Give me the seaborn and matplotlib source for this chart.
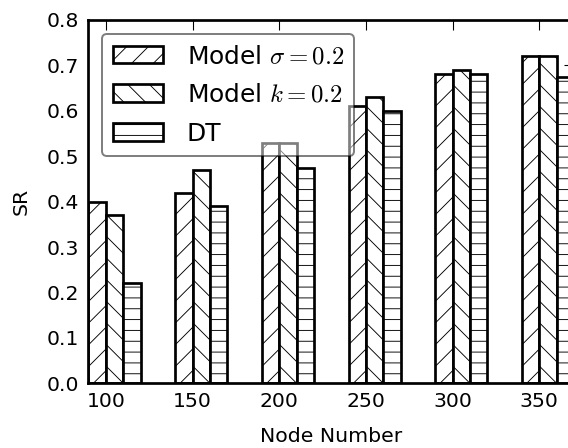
import numpy as np
import pandas as pd
import matplotlib
matplotlib.use("Agg")
import matplotlib.pyplot as plt
import seaborn as sns

nodes = ["100", "150", "200", "250", "300", "350"]
methods = ["Model $\\sigma=0.2$", "Model $k=0.2$", "DT"]
sr_sigma = [0.40, 0.42, 0.53, 0.61, 0.68, 0.72]
sr_k = [0.37, 0.47, 0.53, 0.63, 0.69, 0.72]
sr_dt = [0.22, 0.39, 0.475, 0.60, 0.68, 0.675]
hatches = ["/", "\\", "-"]

df = pd.DataFrame({
    "node": nodes * 3,
    "SR": sr_sigma + sr_k + sr_dt,
    "method": [methods[0]] * 6 + [methods[1]] * 6 + [methods[2]] * 6,
})

sns.set_style("white")
plt.rcParams.update({
    "font.family": ["DejaVu Sans"],
    "mathtext.fontset": "cm",
    "hatch.linewidth": 1.0,
    "xtick.direction": "in",
    "ytick.direction": "in",
    "xtick.top": True,
    "ytick.right": True,
    "text.color": "black",
    "axes.labelcolor": "black",
    "xtick.color": "black",
    "ytick.color": "black",
})

DPI = 65
fig = plt.figure(figsize=(568 / DPI, 448 / DPI), dpi=DPI)
fig.patch.set_facecolor("white")
ax = fig.add_axes([0.1558, 0.1444, 0.8548, 0.811])

sns.barplot(data=df, x="node", y="SR", hue="method", order=nodes,
            hue_order=methods, palette=["white"] * 3, saturation=1,
            edgecolor="black", linewidth=3.0, width=0.6, errorbar=None,
            legend=False, ax=ax)

for cont, h in zip(ax.containers, hatches):
    for p in cont:
        p.set_hatch(h)
        p.set_edgecolor("black")

idx = np.arange(len(nodes))
ax.set_xticks(idx - 0.1)
ax.set_xticklabels(nodes)
ax.set_xlim(-0.3, len(nodes) - 0.7)
ax.set_ylim(0, 0.8)
yt = np.arange(0, 0.81, 0.1)
ax.set_yticks(yt)
ax.set_yticklabels([f"{v:.1f}" for v in yt])

ax.tick_params(axis="both", which="major", direction="in", length=11,
               width=1.2, labelsize=22.5, pad=10, top=True, right=True,
               colors="black")
for s in ax.spines.values():
    s.set_linewidth(3.0)
    s.set_color("black")
    s.set_visible(True)

ax.set_xlabel("Node Number", fontsize=22.5, labelpad=17)
ax.set_ylabel("SR", fontsize=22.5, labelpad=18)

leg = ax.legend(ax.containers, methods, loc="upper left", fontsize=27.5,
                handlelength=2.05, handleheight=0.72, handletextpad=0.94,
                labelspacing=0.6, borderpad=0.42, borderaxespad=0.55,
                fancybox=True, framealpha=0.5, edgecolor="black")
leg.get_frame().set_linewidth(2.2)

fig.savefig("out.png", dpi=DPI)
